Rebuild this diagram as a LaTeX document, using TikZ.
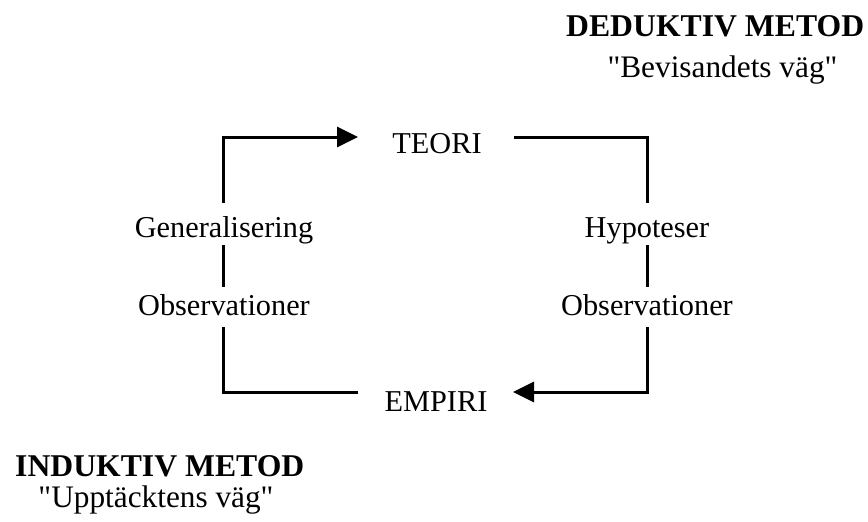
\documentclass[tikz,border=0pt]{standalone}
\usepackage{fontspec}
\setmainfont{Liberation Serif}[Ligatures=TeXOff]
\usetikzlibrary{arrows.meta}
\begin{document}
\begin{tikzpicture}[x=1pt,y=-1pt,
  lbl/.style={anchor=base,inner sep=0pt,font=\fontsize{30.3}{36}\selectfont},
  head/.style={anchor=base west,inner sep=0pt,font=\fontsize{31.7}{37}\selectfont\bfseries},
  sub/.style={anchor=base,inner sep=0pt,font=\fontsize{31.3}{37}\selectfont},
  link/.style={line width=3pt},
  flow/.style={link,-{Triangle[length=21pt,width=20pt]}}]
\useasboundingbox (0,0) rectangle (868,522);

% method headings
\node[head] (ded) at (566,36) {DEDUKTIV METOD};
\node[sub]  (dedsub) at (722.5,77) {"Bevisandets väg"};
\node[head] (ind) at (15,476) {INDUKTIV METOD};
\node[sub]  (indsub) at (156,507) {"Upptäcktens väg"};

% main terms
\node[lbl] (teori)  at (437,153) {TEORI};
\node[lbl] (empiri) at (436,411) {EMPIRI};

% left side: inductive route
\node[lbl] (gen)  at (224,237) {Generalisering};
\node[lbl] (obsl) at (224,315) {Observationer};
% right side: deductive route
\node[lbl] (hyp)  at (647,237) {Hypoteser};
\node[lbl] (obsr) at (647,315) {Observationer};

% gap ends of the line pieces
\coordinate (lA) at (223,203);
\coordinate (lB) at (223,245);
\coordinate (lC) at (223,287);
\coordinate (lD) at (223,327);
\coordinate (rA) at (647,203);
\coordinate (rB) at (647,245);
\coordinate (rC) at (647,287);
\coordinate (rD) at (647,327);
\coordinate (tIn)  at (358,137);
\coordinate (tOut) at (514,137);
\coordinate (eOut) at (358,392);
\coordinate (eIn)  at (513,392);

% inductive loop: empiri up to teori
\draw[link] (eOut) -| (lD);
\draw[link] (lC) -- (lB);
\draw[flow] (lA) |- (tIn);
% deductive loop: teori down to empiri
\draw[link] (tOut) -| (rA);
\draw[link] (rB) -- (rC);
\draw[flow] (rD) |- (eIn);
\end{tikzpicture}
\end{document}
